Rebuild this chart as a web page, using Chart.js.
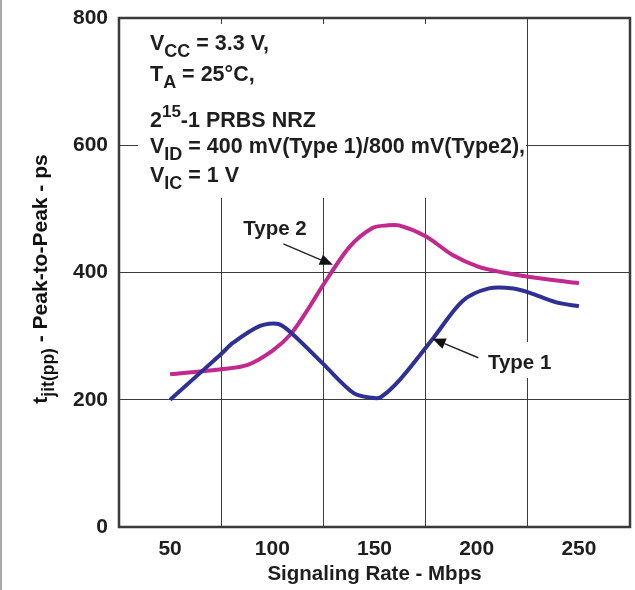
<!DOCTYPE html>
<html>
<head>
<meta charset="utf-8">
<script src="https://cdn.jsdelivr.net/npm/chart.js@4"></script>
<style>
html,body{margin:0;padding:0;background:#fff;}
#wrap{width:635px;height:590px;position:relative;}
</style>
</head>
<body>
<div id="wrap"><canvas id="c" width="635" height="590"></canvas></div>
<script>
// ---- data ----
const rateType1 = [50, 75, 81, 94, 103, 110, 125, 140, 149, 153, 162, 179, 193, 206, 218, 226, 239, 250];
const jitType1  = [200, 272, 290, 316, 319, 303, 256, 210, 203, 204, 230, 298, 355, 375, 375, 368, 353, 347];
const rateType2 = [50, 75, 88, 100, 109, 117, 125, 138, 149, 156, 162, 175, 188, 201, 213, 226, 250];
const jitType2  = [240, 248, 255, 277, 303, 340, 381, 441, 470, 474, 474, 457, 428, 409, 400, 393, 383];
const xTickLabels = [50, 100, 150, 200, 250];
const xGridValues = [75, 125, 175, 225];
const yTickLabels = [0, 200, 400, 600, 800];
const seriesNames = ['Type 1', 'Type 2'];

const FONT = '"Liberation Sans", Arial, Helvetica, sans-serif';
const BLUE = '#2f3192';
const MAGENTA = '#c2288d';
const INK = '#1e1e1e';

function pts(xs, ys){ return xs.map((x,i)=>({x:x, y:ys[i]})); }

function drawRich(ctx, segs, x, y){
  let cx = x;
  for (const s of segs){
    ctx.font = 'bold ' + s.size + 'px ' + FONT;
    ctx.fillText(s.t, cx, y + (s.dy||0));
    cx += ctx.measureText(s.t).width;
  }
  return cx - x;
}
function richWidth(ctx, segs){
  let w = 0;
  for (const s of segs){ ctx.font = 'bold ' + s.size + 'px ' + FONT; w += ctx.measureText(s.t).width; }
  return w;
}
function arrow(ctx, x1, y1, x2, y2){
  const ang = Math.atan2(y2-y1, x2-x1);
  const L = 13, W = 5.5;
  const bx = x2 - L*Math.cos(ang), by = y2 - L*Math.sin(ang);
  ctx.strokeStyle = '#222'; ctx.lineWidth = 1.4;
  ctx.beginPath(); ctx.moveTo(x1,y1); ctx.lineTo(bx,by); ctx.stroke();
  ctx.fillStyle = '#111';
  ctx.beginPath();
  ctx.moveTo(x2,y2);
  ctx.lineTo(bx + W*Math.sin(ang), by - W*Math.cos(ang));
  ctx.lineTo(bx - W*Math.sin(ang), by + W*Math.cos(ang));
  ctx.closePath(); ctx.fill();
}

const decor = {
  id: 'decor',
  beforeDraw(chart){
    const ctx = chart.ctx;
    ctx.save();
    ctx.fillStyle = '#fff';
    ctx.fillRect(0,0,chart.width,chart.height);
    ctx.strokeStyle = '#8a8a8a'; ctx.lineWidth = 1.5;
    ctx.beginPath(); ctx.moveTo(1,0); ctx.lineTo(1,chart.height); ctx.stroke();
    ctx.restore();
  },
  beforeDatasetsDraw(chart){
    const ctx = chart.ctx, a = chart.chartArea;
    ctx.save();
    ctx.fillStyle = '#fff';
    ctx.fillRect(a.left + 19, a.top + 6, 388, 174);
    ctx.fillRect(a.left + 361, a.top + 324, 72, 36);
    ctx.restore();
  },
  afterDatasetsDraw(chart){
    const ctx = chart.ctx, a = chart.chartArea;
    const xs = chart.scales.x, ys = chart.scales.y;
    ctx.save();
    ctx.fillStyle = INK;
    ctx.textBaseline = 'alphabetic';
    ctx.textAlign = 'left';
    const tx = a.left + 31, M = 21.5, S = 18;
    drawRich(ctx, [{t:'V',size:M},{t:'CC',size:S,dy:7},{t:' = 3.3 V,',size:M}], tx, a.top + 32);
    drawRich(ctx, [{t:'T',size:M},{t:'A',size:S,dy:7},{t:' = 25°C,',size:M}], tx, a.top + 63);
    drawRich(ctx, [{t:'2',size:M},{t:'15',size:17,dy:-10},{t:'-1 PRBS NRZ',size:M}], tx, a.top + 109);
    drawRich(ctx, [{t:'V',size:M},{t:'ID',size:S,dy:7},{t:' = 400 mV(Type 1)/800 mV(Type2),',size:M}], tx, a.top + 135);
    drawRich(ctx, [{t:'V',size:M},{t:'IC',size:S,dy:7},{t:' = 1 V',size:M}], tx, a.top + 164);

    ctx.font = 'bold 20.5px ' + FONT;
    ctx.fillText(seriesNames[1], xs.getPixelForValue(85.8), ys.getPixelForValue(459));
    ctx.fillText(seriesNames[0], xs.getPixelForValue(205.5), ys.getPixelForValue(249));
    arrow(ctx, xs.getPixelForValue(105.4), ys.getPixelForValue(445), xs.getPixelForValue(129.6), ys.getPixelForValue(412));
    arrow(ctx, xs.getPixelForValue(200.8), ys.getPixelForValue(266), xs.getPixelForValue(178.4), ys.getPixelForValue(296));

    ctx.strokeStyle = '#3a3a3a'; ctx.lineWidth = 2.5;
    ctx.strokeRect(a.left, a.top, a.right - a.left, a.bottom - a.top);

    const segs = [{t:'t',size:21},{t:'jit(pp)',size:17.5,dy:7},{t:' - Peak-to-Peak - ps',size:21}];
    const w = richWidth(ctx, segs);
    ctx.translate(47, 279);
    ctx.rotate(-Math.PI/2);
    drawRich(ctx, segs, -w/2, 0);
    ctx.restore();
  }
};

new Chart(document.getElementById('c'), {
  type: 'line',
  data: {
    datasets: [
      { label: seriesNames[0], data: pts(rateType1, jitType1), borderColor: BLUE, borderWidth: 4, pointRadius: 0, tension: 0.3, fill: false },
      { label: seriesNames[1], data: pts(rateType2, jitType2), borderColor: MAGENTA, borderWidth: 4, pointRadius: 0, tension: 0.3, fill: false }
    ]
  },
  options: {
    responsive: false,
    animation: false,
    devicePixelRatio: 1,
    layout: { padding: { left: 0, top: 18, right: 5, bottom: 0 } },
    plugins: { legend: { display: false }, tooltip: { enabled: false } },
    scales: {
      x: {
        type: 'linear', position: 'bottom', min: 25, max: 275,
        afterBuildTicks: s => { s.ticks = xTickLabels.map(v => ({value: v})); },
        afterFit: s => { s.height = 63; s.paddingLeft = 0; s.paddingRight = 0; },
        grid: { display: false, drawTicks: false },
        border: { display: false },
        ticks: { color: INK, font: { family: FONT, size: 21, weight: 'bold' }, padding: 10, maxRotation: 0, callback: v => String(v) },
        title: { display: true, text: 'Signaling Rate - Mbps', color: INK, font: { family: FONT, size: 20.5, weight: 'bold' }, padding: { top: 0, bottom: 3 } }
      },
      x2: {
        type: 'linear', position: 'bottom', min: 25, max: 275,
        afterBuildTicks: s => { s.ticks = xGridValues.map(v => ({value: v})); },
        afterFit: s => { s.height = 0; s.paddingLeft = 0; s.paddingRight = 0; },
        grid: { display: true, drawTicks: false, color: '#3c3c3c', lineWidth: 1 },
        border: { display: false },
        ticks: { display: false }
      },
      y: {
        type: 'linear', min: 0, max: 800,
        afterBuildTicks: s => { s.ticks = yTickLabels.map(v => ({value: v})); },
        afterFit: s => { s.width = 119; s.paddingTop = 0; s.paddingBottom = 0; },
        grid: { display: true, drawTicks: false, color: '#3c3c3c', lineWidth: 1 },
        border: { display: false },
        ticks: { color: INK, font: { family: FONT, size: 21, weight: 'bold' }, padding: 11, callback: v => String(v) }
      }
    }
  },
  plugins: [decor]
});
</script>
</body>
</html>
